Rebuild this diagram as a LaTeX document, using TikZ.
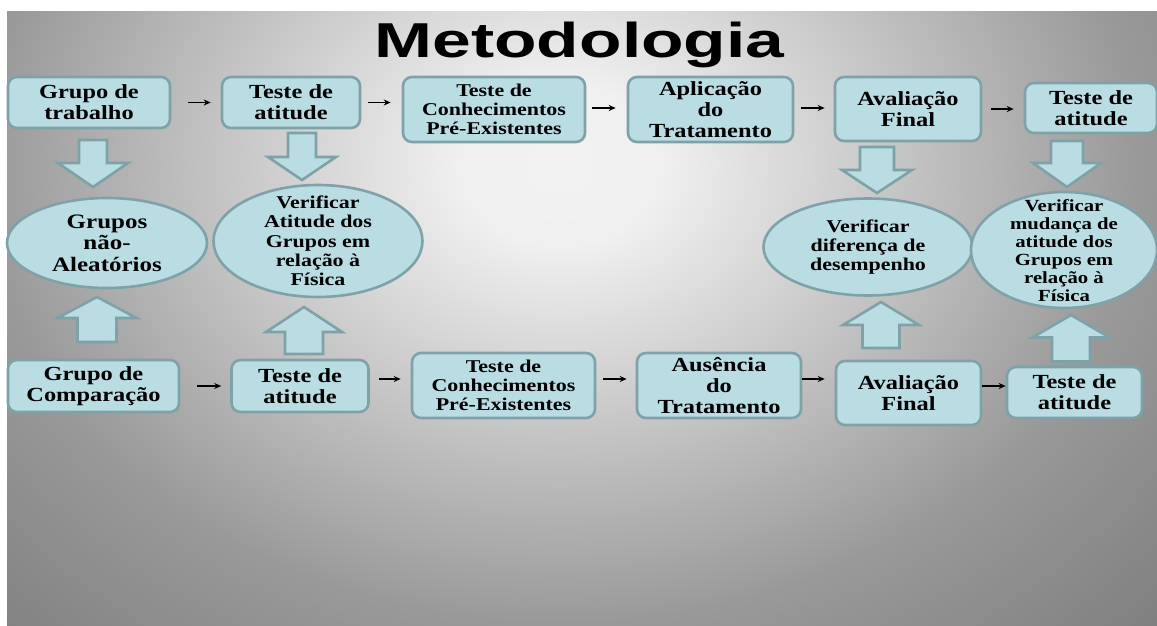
\documentclass[tikz,border=0pt]{standalone}
\usepackage{fontspec}
\setmainfont{Liberation Serif}[FakeStretch=1.22]
\newfontfamily\titlefont{Liberation Sans}[FakeStretch=1.42]
\usetikzlibrary{arrows.meta,shapes.geometric}
\definecolor{boxfill}{HTML}{B9DDE3}
\definecolor{boxline}{HTML}{7EA2A7}
\definecolor{bgA}{gray}{0.95}
\definecolor{bgB}{gray}{0.94}
\definecolor{bgC}{gray}{0.60}
\definecolor{bgD}{gray}{0.50}
\pgfdeclareradialshading{bgshade}{\pgfpoint{0bp}{0bp}}{color(0bp)=(bgA); color(3bp)=(bgB); color(17bp)=(bgC); color(24.5bp)=(bgD); color(50bp)=(bgD)}
\newcommand\blockarr[6]{%
  \draw[blockarrow] (#1-#2,#4) -- (#1+#2,#4) -- (#1+#2,#5) -- (#1+#3,#5) -- (#1,#6) -- (#1-#3,#5) -- (#1-#2,#5) -- cycle;}
\tikzset{
  box/.style={draw=boxline, fill=boxfill, line width=2.6pt, rounded corners=9pt, align=center, inner sep=0pt,
    font=\bfseries\fontsize{20}{20.7}\selectfont},
  boxsmall/.style={box, font=\bfseries\fontsize{18}{19}\selectfont},
  oval/.style={ellipse, draw=boxline, fill=boxfill, line width=2.6pt, inner sep=0pt},
  ovaltext/.style={align=center, inner sep=0pt},
  flow/.style={-{Stealth[length=7pt,width=6pt]}, line width=1.2pt, black},
  blockarrow/.style={draw=boxline, fill=boxfill, line width=2.6pt, line join=miter},
}
\begin{document}
\begin{tikzpicture}[x=1pt,y=-1pt]
\useasboundingbox (0,0) rectangle (1157,626);
\fill[white] (0,0) rectangle (1157,626);
\begin{scope}
  \clip (7,12) rectangle (1157,626);
  \shade[shading=bgshade] (560,165) ellipse [x radius=850, y radius=676];
\end{scope}

% title
\node[font=\titlefont\bfseries\fontsize{49}{49}\selectfont, anchor=base, inner sep=0pt] (title) at (579.5,58) {Metodologia};

% top row
\node[box, minimum width=162, minimum height=51] (gt) at (89,102.5) {Grupo de\\trabalho};
\node[box, minimum width=138, minimum height=51] (ta1) at (291,102.5) {Teste de\\atitude};
\node[boxsmall, minimum width=182, minimum height=65] (tc1) at (494,109.5) {Teste de\\Conhecimentos\\Pré-Existentes};
\node[box, minimum width=165, minimum height=65] (ap) at (710.5,109.5) {Aplicação\\do\\Tratamento};
\node[box, minimum width=146, minimum height=64] (af1) at (908,109) {Avaliação\\Final};
\node[box, minimum width=132, minimum height=50] (ta2) at (1091,108) {Teste de\\atitude};

% bottom row
\node[box, minimum width=171, minimum height=52] (gc) at (93.5,386) {Grupo de\\Comparação};
\node[box, minimum width=137, minimum height=52] (tb1) at (300,386) {Teste de\\atitude};
\node[boxsmall, minimum width=183, minimum height=65] (tc2) at (503.5,385.5) {Teste de\\Conhecimentos\\Pré-Existentes};
\node[box, minimum width=164, minimum height=65] (au) at (719,385.5) {Ausência\\do\\Tratamento};
\node[box, minimum width=145, minimum height=64] (af2) at (908.5,393) {Avaliação\\Final};
\node[box, minimum width=135, minimum height=51] (tb2) at (1074.5,392.5) {Teste de\\atitude};

% ovals
\node[oval, minimum width=200, minimum height=90] (e1) at (107,243) {};
\node[ovaltext, font=\bfseries\fontsize{20.5}{21.5}\selectfont] (e1t) at (e1) {Grupos\\não-\\Aleatórios};
\node[oval, minimum width=209, minimum height=112] (e2) at (318,241) {};
\node[ovaltext, font=\bfseries\fontsize{18}{19.3}\selectfont] (e2t) at (e2) {Verificar\\Atitude dos\\Grupos em\\relação à\\Física};
\node[oval, minimum width=209, minimum height=97] (e3) at (868,247) {};
\node[ovaltext, font=\bfseries\fontsize{18}{19}\selectfont] (e3t) at (e3) {Verificar\\diferença de\\desempenho};
\node[oval, minimum width=186, minimum height=116] (e4) at (1064,250) {};
\node[ovaltext, font=\bfseries\fontsize{17}{18}\selectfont] (e4t) at ([yshift=-1pt]e4) {Verificar\\mudança de\\atitude dos\\Grupos em\\relação à\\Física};

% block arrows (down)
\blockarr{93}{14}{35}{140}{163}{187}
\blockarr{302}{14}{34}{133}{157}{180}
\blockarr{877}{17}{35}{147}{170}{193}
\blockarr{1067}{16}{34}{141}{163}{187}
% block arrows (up)
\blockarr{97}{19.5}{39.5}{342}{318}{297}
\blockarr{304}{19}{38}{354}{332}{307}
\blockarr{881}{18.5}{38}{348}{325}{302}
\blockarr{1071}{19}{38.5}{361.5}{337.5}{315}

% flow arrows top
\draw[flow, shorten <=17pt, shorten >=10pt] (gt.east) -- (gt.east -| ta1.west);
\draw[flow, shorten <=7pt, shorten >=11pt] (ta1.east) -- (ta1.east -| tc1.west);
\draw[flow, shorten <=6pt, shorten >=11pt] ([yshift=1.5pt]tc1.east) -- ([yshift=1.5pt]tc1.east -| ap.west);
\draw[flow, shorten <=7pt, shorten >=9pt] ([yshift=1.5pt]ap.east) -- ([yshift=1.5pt]ap.east -| af1.west);
\draw[flow, shorten <=9pt, shorten >=10pt] (af1.east) -- (af1.east -| ta2.west);

% flow arrows bottom
\draw[flow, shorten <=17pt, shorten >=9pt] (gc.east) -- (gc.east -| tb1.west);
\draw[flow, shorten <=9pt, shorten >=10pt] ([yshift=7pt]tb1.east) -- ([yshift=7pt]tb1.east -| tc2.west);
\draw[flow, shorten <=7pt, shorten >=9pt] ([yshift=6.5pt]tc2.east) -- ([yshift=6.5pt]tc2.east -| au.west);
\draw[flow, shorten >=10pt] ([yshift=6.5pt]au.east) -- ([yshift=6.5pt]au.east -| af2.west);
\draw[flow] ([yshift=7pt]af2.east) -- ([yshift=7pt]af2.east -| tb2.west);
\end{tikzpicture}
\end{document}
